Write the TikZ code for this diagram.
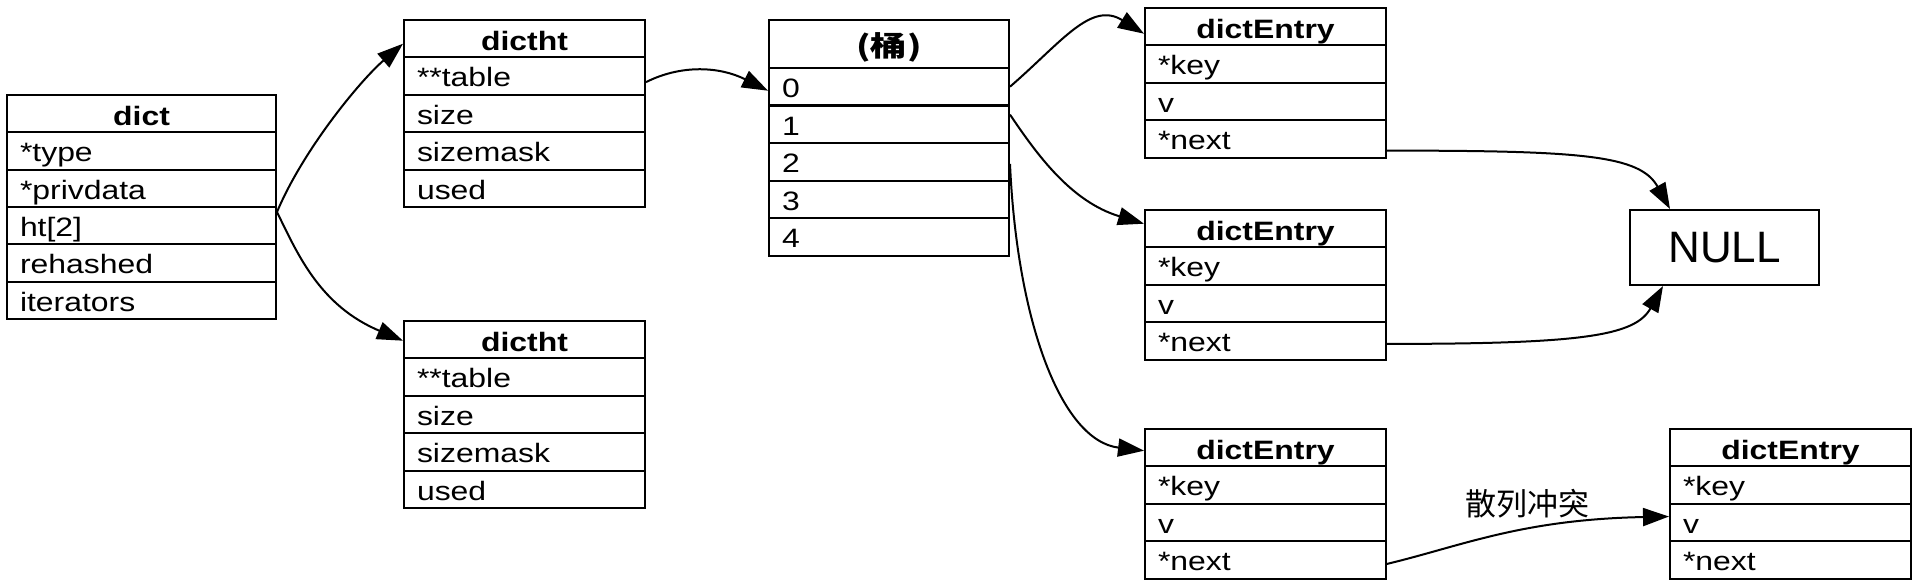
\documentclass[tikz,border=0pt]{standalone}
\usepackage{fontspec}
\setmainfont{Liberation Sans}[FakeStretch=1.2]
\newfontfamily\plainsans{Liberation Sans}
\newfontfamily\cjk{Noto Sans CJK SC}
\newfontfamily\cjkwide{Noto Sans CJK SC}[FakeStretch=1.3]
\usetikzlibrary{arrows.meta,calc}
\newcommand\rowfont{\fontsize{13.3}{16}\selectfont}
\begin{document}
\begin{tikzpicture}[x=0.5pt,y=-0.5pt,
  cell/.style={draw, line width=1pt, anchor=north west, inner xsep=6.5pt, inner ysep=0pt,
    minimum height=18.7pt, text height=11.5pt, text depth=0.7pt, align=left, font=\rowfont},
  head/.style={cell, align=center, text height=12.5pt, font=\rowfont\bfseries},
  conn/.style={line width=1pt, -{Triangle[length=13pt,width=9pt]}},
  nullbox/.style={draw, line width=1pt, anchor=north west, inner sep=0pt,
    minimum width=94.5pt, minimum height=37.5pt, font=\plainsans\fontsize{22}{26}\selectfont},
  lbl/.style={font={\cjk\fontsize{15.5}{18}\selectfont}, inner sep=0pt}]
\useasboundingbox (0,0) rectangle (1916,586);
\fill[white] (0,0) rectangle (1916,586);

% dict
\node[head, text width=121.5pt] (d0) at (6,94) {dict};
\foreach \t [count=\i] in {*type,*privdata,ht[2],rehashed,iterators}
  \node[cell, text width=121.5pt] (d\i) at (6,94+\i*37.33) {\t};

% dictht 1
\node[head, text width=107.5pt] (a0) at (403,19) {dictht};
\foreach \t [count=\i] in {**table,size,sizemask,used}
  \node[cell, text width=107.5pt] (a\i) at (403,19+\i*37.4) {\t};

% dictht 2
\node[head, text width=107.5pt] (c0) at (403,320) {dictht};
\foreach \t [count=\i] in {**table,size,sizemask,used}
  \node[cell, text width=107.5pt] (c\i) at (403,320+\i*37.4) {\t};

% buckets
\node[head, text width=107pt, minimum height=24pt, text height=13pt,
  font=\cjkwide\bfseries\fontsize{14}{17}\selectfont] (b0) at (768,19) {(桶)};
\foreach \t [count=\i] in {0,1,2,3,4}
  \node[cell, text width=107pt] (b\i) at (768,67+\t*37.6) {\t};

% dictEntry boxes
\foreach \n/\x/\y in {e1/1144/7, e2/1144/209, e3/1144/428, e4/1669/428} {
  \node[head, text width=107.5pt] (\n-0) at (\x,\y) {dictEntry};
  \foreach \t [count=\i] in {*key,v,*next}
    \node[cell, text width=107.5pt] (\n-\i) at (\x,\y+\i*37.4) {\t};
}

% NULL
\node[nullbox] (null) at (1629,209) {NULL};

% label
\node[lbl] (hc) at (1527,504) {散列冲突};

% connectors
\draw[conn] ($(d3.north east)+(0,6)$) .. controls +(26,-62) and +(-43,37) .. ($(a0.west)+(0,5)$);
\draw[conn] ($(d3.north east)+(0,6)$) .. controls +(21,43) and +(-83,-35) .. ($(c0.west)+(0,1)$);
\draw[conn] ($(a1.east)+(0,6)$) .. controls +(36,-18) and +(-48,-24) .. ($(b1.west)+(0,4)$);
\draw[conn] (b1.east) .. controls +(52,-45) and +(-53,-33) .. ($(e1-0.west)+(0,7)$);
\draw[conn] ($(b2.north east)+(0,10)$) .. controls +(27,40) and +(-73,-22) .. ($(e2-0.west)+(0,-5)$);
\draw[conn] ($(b3.east)+(0,2)$) .. controls +(7,157) and +(-83,-10) .. ($(e3-0.west)+(0,3)$);
\draw[conn] ($(e1-3.south east)+(0,-8)$) .. controls +(195,0) and +(-30,-54) .. ($(null.north west)+(41,0)$);
\draw[conn] ($(e2-3.east)+(0,3)$) .. controls +(195,0) and +(-28,50) .. ($(null.south west)+(34,0)$);
\draw[conn] ($(e3-3.east)+(0,4)$) .. controls +(75,-18) and +(-148,3) .. ($(e4-2.west)+(0,-6)$);
\end{tikzpicture}
\end{document}
